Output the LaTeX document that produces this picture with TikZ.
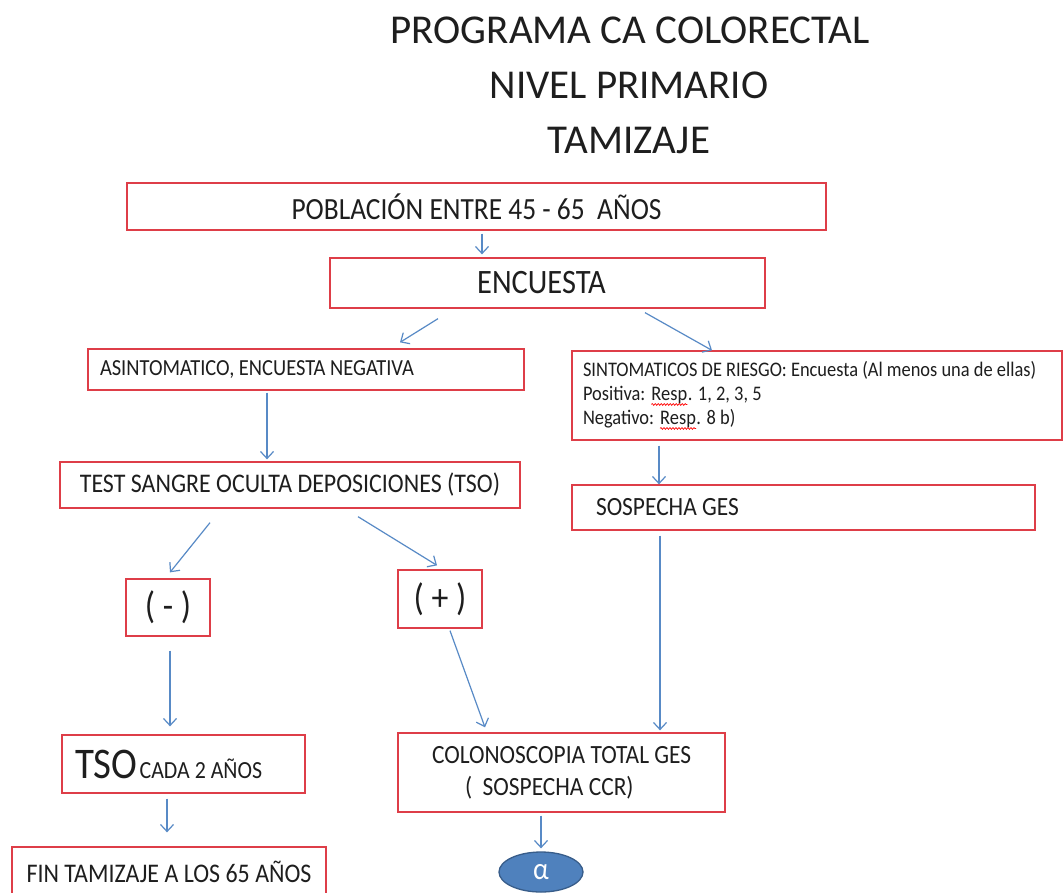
\documentclass[tikz,border=0pt]{standalone}
\usepackage{fontspec}
\setmainfont{Carlito}
\newfontfamily\bodyfont{Carlito}[FakeStretch=0.89]
\usetikzlibrary{arrows.meta,calc,shapes.geometric,decorations.pathmorphing}
\definecolor{boxred}{RGB}{222,62,72}
\definecolor{arrblue}{RGB}{88,138,198}
\definecolor{ellfill}{RGB}{79,129,189}
\definecolor{elldraw}{RGB}{56,93,138}
\definecolor{txt}{RGB}{30,30,30}
\newcommand\redwave[1]{\tikz[baseline=(w.base)]{\node[inner sep=0pt,minimum width=0pt,minimum height=0pt,anchor=base,draw=none,fill=none](w){#1};\draw[red,line width=0.7pt,decorate,decoration={snake,amplitude=0.9pt,segment length=3pt}] ([yshift=-4pt]w.base west) -- ([yshift=-4pt]w.base east);}}
\newcommand\fs[2]{\fontsize{#1}{#2}\bodyfont}
\newcommand\lft[3]{\makebox[#1][l]{\hspace*{#2}#3}}
\begin{document}
\begin{tikzpicture}[x=1pt,y=-1pt,
  box/.style={draw=boxred, line width=1.3pt, text=txt, inner sep=0pt},
  arr/.style={draw=arrblue, line width=1.2pt, -{Straight Barb[length=7pt,width=13pt,line width=1.2pt]}},
  ttl/.style={text=txt, inner sep=0pt, font=\fontsize{41}{45}\selectfont}]
\clip (0,0) rectangle (1064,892);
\fill[white] (0,0) rectangle (1064,892);

\node[ttl] (t1) at (630,30) {PROGRAMA CA COLORECTAL};
\node[ttl] (t2) at (629,85) {NIVEL PRIMARIO};
\node[ttl] (t3) at (629,140) {TAMIZAJE};

\node[box, minimum width=699pt, minimum height=47pt, font=\fs{30.8}{34}] (pob) at (476.5,206.5) {POBLACIÓN ENTRE 45 - 65\ \ AÑOS};
\node[box, minimum width=435pt, minimum height=50pt, font=\fs{34.2}{38}] (enc) at (547.5,283) {\hspace*{-12pt}ENCUESTA};
\node[box, minimum width=436pt, minimum height=41pt, font=\fs{23}{26}] (asin) at (306,369.5) {\lft{436pt}{12pt}{ASINTOMATICO, ENCUESTA NEGATIVA}};
\node[box, minimum width=490pt, minimum height=89pt, align=left, font=\fs{20.7}{24}] (sint) at (817,395.5)
  {\lft{490pt}{11pt}{SINTOMATICOS DE RIESGO: Encuesta (Al menos una de ellas)}\\
   \lft{490pt}{11pt}{Positiva: \redwave{Resp}. 1, 2, 3, 5}\\
   \lft{490pt}{11pt}{Negativo: \redwave{Resp}. 8 b)}};
\node[box, minimum width=460pt, minimum height=46pt, font=\fs{26.9}{30}] (tso) at (290,485) {TEST SANGRE OCULTA DEPOSICIONES (TSO)};
\node[box, minimum width=463pt, minimum height=45pt, font=\fs{26.3}{30}] (sges) at (803.5,507.5) {\lft{463pt}{24pt}{SOSPECHA GES}};
\node[box, minimum width=84pt, minimum height=57pt, font=\fs{38}{42}] (neg) at (168,607.5) {( - )};
\node[box, minimum width=84pt, minimum height=58pt, font=\fs{38}{42}] (pos) at (440,599) {( + )};
\node[box, minimum width=243pt, minimum height=58pt] (cada) at (183.5,764) {\lft{243pt}{13pt}{{\fs{43.7}{46}TSO} {\fs{24.6}{28}CADA 2 AÑOS}}};
\node[box, minimum width=327pt, minimum height=79pt, align=left, font=\fs{26.3}{32}] (colo) at (561.5,772.5)
  {\lft{327pt}{34pt}{COLONOSCOPIA TOTAL GES}\\\lft{327pt}{67pt}{(\ \ SOSPECHA CCR)}};
\node[box, minimum width=314pt, minimum height=50pt, font=\fs{26.9}{30}] (fin) at (169,872) {FIN TAMIZAJE A LOS 65 AÑOS};
\node[ellipse, draw=elldraw, fill=ellfill, line width=1.3pt, minimum width=84pt, minimum height=40pt, inner sep=0pt, text=white, font=\fs{31}{34}] (alpha) at (541,872) {α};

\draw[arr] ($(pob.south)+(5.5,3)$) -- ($(enc.north)+(-65.5,-3)$);
\draw[arr] ($(enc.south)+(-109.5,10)$) -- ($(asin.north)+(94,-6)$);
\draw[arr] ($(enc.south)+(97.5,4)$) -- ($(sint.north)+(-105,0)$);
\draw[arr] ($(asin.south)+(-39,2)$) -- ($(tso.north)+(-23,-2)$);
\draw[arr] ($(sint.south)+(-158,5)$) -- ($(sges.north)+(-144.5,0)$);
\draw[arr] ($(tso.south)+(-80,14)$) -- ($(neg.north)+(2,-6)$);
\draw[arr] ($(tso.south)+(68,8)$) -- ($(pos.north)+(-3,-4)$);
\draw[arr] ($(neg.south)+(2,14)$) -- ($(cada.north)+(-13.5,-8)$);
\draw[arr] ($(pos.south)+(10,2)$) -- ($(colo.north)+(-76.5,-5)$);
\draw[arr] ($(sges.south)+(-143.5,5)$) -- ($(colo.north)+(98.5,-2)$);
\draw[arr] ($(cada.south)+(-16.5,5)$) -- ($(fin.north)+(-2,-14)$);
\draw[arr] ($(colo.south)+(-20.5,3)$) -- ($(alpha.north)+(0,-3)$);
\end{tikzpicture}
\end{document}
